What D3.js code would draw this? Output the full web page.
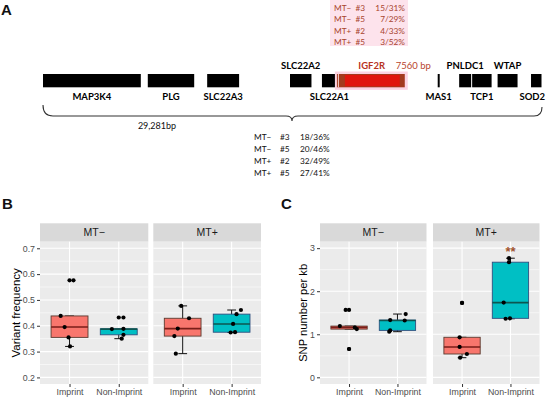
<!DOCTYPE html>
<html><head><meta charset="utf-8">
<script src="https://cdn.jsdelivr.net/npm/d3@7"></script>
<style>body{margin:0;background:#fff}svg{display:block}</style>
</head><body><svg id="c" width="550" height="399"></svg>
<script>
// ================= DATA =================
const facets = ["MT−", "MT+"];
const categories = ["Imprint", "Non-Imprint"];

// Panel B: variant frequency
const vfMinusImprint = [0.576, 0.438, 0.395, 0.355, 0.320];
const vfMinusNonImprint = [0.432, 0.387, 0.388, 0.365, 0.350];
const vfPlusImprint = [0.477, 0.429, 0.389, 0.360, 0.292];
const vfPlusNonImprint = [0.461, 0.445, 0.407, 0.375, 0.374];
const vfTicks = [0.2, 0.3, 0.4, 0.5, 0.6, 0.7];

// Panel C: SNP number per kb
const snpMinusImprint = [1.565, 1.19, 1.16, 1.12, 0.658];
const snpMinusNonImprint = [1.47, 1.33, 1.32, 1.09, 1.06];
const snpPlusImprint = [1.728, 0.93, 0.705, 0.542, 0.456];
const snpPlusNonImprint = [2.767, 2.674, 1.735, 1.37, 1.36];
const snpTicks = [0, 1, 2, 3];

// jitter offsets (category units)
const jitVfMinusImprint = [0.08, -0.18, -0.10, -0.02, 0.01];
const jitVfMinusNonImprint = [0.095, -0.14, 0.095, 0.095, 0.06];
const jitVfPlusImprint = [-0.03, 0.13, -0.10, -0.17, -0.14];
const jitVfPlusNonImprint = [0.19, 0.10, 0.03, 0.07, -0.02];
const jitSnpMinusImprint = [-0.07, -0.19, 0.12, 0.16, 0.0];
const jitSnpMinusNonImprint = [0.17, -0.15, 0.15, -0.15, -0.17];
const jitSnpPlusImprint = [0.0, -0.05, -0.05, 0.10, -0.04];
const jitSnpPlusNonImprint = [-0.03, -0.03, -0.14, -0.01, -0.10];

// Panel A: schematic gene map (positions in % of the 29,281 bp region)
const geneNames = ["MAP3K4", "PLG", "SLC22A3", "SLC22A2", "SLC22A1", "IGF2R", "MAS1", "PNLDC1", "TCP1", "WTAP", "SOD2"];
const geneStart = [0, 21.0, 32.9, 49.5, 55.9, 58.9, 79.1, 83.4, 86.0, 91.1, 97.8];
const geneEnd   = [19.6, 30.3, 39.3, 53.8, 58.9, 72.5, 79.5, 85.8, 89.9, 95.1, 99.9];
const geneLabelSide = ["below", "below", "below", "above", "below", "above", "below", "above", "below", "above", "below"];
const regionLength = "29,281bp";
const igf2rLength = "7560 bp";
const igf2rStatsMT = ["MT−", "MT−", "MT+", "MT+"];
const igf2rStatsId = ["#3", "#5", "#2", "#5"];
const igf2rStatsVal = ["15/31%", "7/29%", "4/33%", "3/52%"];
const regionStatsMT = ["MT−", "MT−", "MT+", "MT+"];
const regionStatsId = ["#3", "#5", "#2", "#5"];
const regionStatsVal = ["18/36%", "20/46%", "32/49%", "27/41%"];

// ================= DRAW =================
const svg = d3.select("#c");
const SANS = "'Liberation Sans', Arial, sans-serif";
const MAPF = "Lato, 'Open Sans', sans-serif";

// ---------- Panel A ----------
const gx = d3.scaleLinear().domain([0, 100]).range([43, 542]);
const geneTop = 74, geneBot = 87.3;
const A = svg.append("g");
A.append("text").attr("x", 1).attr("y", 15).text("A")
  .attr("font-family", SANS).attr("font-weight", "bold").attr("font-size", 15).attr("fill", "#111");

const genes = geneNames.map((n, i) => ({name: n, s: geneStart[i], e: geneEnd[i], side: geneLabelSide[i]}));
genes.forEach(g => {
  const x0 = gx(g.s), x1 = gx(g.e);
  if (g.name === "IGF2R") {
    A.append("rect").attr("x", x0 - 2).attr("y", geneTop - 2.5).attr("width", x1 - x0 + 5).attr("height", geneBot - geneTop + 5).attr("fill", "#fbd3e2");
    A.append("rect").attr("x", x0).attr("y", geneTop).attr("width", x1 - x0).attr("height", geneBot - geneTop).attr("fill", "#a33a1e");
    A.append("rect").attr("x", x0 + 1).attr("y", geneTop).attr("width", 1).attr("height", geneBot - geneTop).attr("fill", "#f5d0d0");
    A.append("rect").attr("x", x0 + 8).attr("y", geneTop + 1).attr("width", x1 - x0 - 13).attr("height", geneBot - geneTop - 2).attr("fill", "#e0150e");
  } else {
    A.append("rect").attr("x", x0).attr("y", geneTop).attr("width", Math.max(1.5, x1 - x0)).attr("height", geneBot - geneTop).attr("fill", "#000");
  }
  const isIgf = g.name === "IGF2R";
  let cx = (x0 + x1) / 2;
  if (g.name === "SOD2") cx -= 4;
  A.append("text")
    .attr("x", isIgf ? cx - 12.5 : cx)
    .attr("y", g.side === "above" ? 68.5 : 99.5)
    .attr("text-anchor", isIgf ? "start" : "middle")
    .attr("font-family", MAPF).attr("font-weight", "bold").attr("font-size", 9.5)
    .attr("fill", isIgf ? "#b8321e" : "#000").text(g.name);
  if (isIgf) {
    A.append("text").attr("x", cx + 25).attr("y", 68.5).attr("font-family", MAPF).attr("font-size", 9.5)
      .attr("fill", "#b8452e").text(igf2rLength);
  }
});

// stats above IGF2R
A.append("rect").attr("x", 330).attr("y", 0).attr("width", 78).attr("height", 46).attr("fill", "#fde3ec");
igf2rStatsMT.forEach((m, i) => {
  const y = 10.5 + i * 11.5;
  A.append("text").attr("x", 334).attr("y", y).text(m).attr("font-family", MAPF).attr("font-size", 8.3).attr("fill", "#a8432c");
  A.append("text").attr("x", 355.5).attr("y", y).text(igf2rStatsId[i]).attr("font-family", MAPF).attr("font-size", 8.3).attr("fill", "#a8432c");
  A.append("text").attr("x", 405).attr("y", y).attr("text-anchor", "end").text(igf2rStatsVal[i]).attr("font-family", MAPF).attr("font-size", 8.3).attr("fill", "#a8432c");
});

// brace
const bL = gx(0), bR = gx(100), bY = 116, bMid = 292;
const bp = d3.path();
bp.moveTo(bL, 105); bp.quadraticCurveTo(bL, bY, bL + 10, bY);
bp.lineTo(bMid - 6, bY); bp.quadraticCurveTo(bMid, bY, bMid, bY + 5);
bp.quadraticCurveTo(bMid, bY, bMid + 6, bY);
bp.lineTo(bR - 8, bY); bp.quadraticCurveTo(bR, bY, bR, 107);
A.append("path").attr("d", bp.toString()).attr("fill", "none").attr("stroke", "#333").attr("stroke-width", 1.1);
A.append("text").attr("x", 157).attr("y", 128.5).attr("text-anchor", "middle").attr("font-family", MAPF)
  .attr("font-size", 9).attr("fill", "#111").text(regionLength);

regionStatsMT.forEach((m, i) => {
  const y = 139.5 + i * 12;
  A.append("text").attr("x", 254).attr("y", y).text(m).attr("font-family", MAPF).attr("font-size", 8.3).attr("fill", "#111");
  A.append("text").attr("x", 280).attr("y", y).text(regionStatsId[i]).attr("font-family", MAPF).attr("font-size", 8.3).attr("fill", "#111");
  A.append("text").attr("x", 300).attr("y", y).text(regionStatsVal[i]).attr("font-family", MAPF).attr("font-size", 8.3).attr("fill", "#111");
});

// ---------- Panels B & C ----------
const FILLS = ["#F8766D", "#00BFC4"];
const MEDS = ["#7a1e18", "#0d5650"];
const OUTL = ["#5a3b30", "#2f4f7f"];

function boxStats(vals) {
  const s = vals.slice().sort(d3.ascending);
  const q1 = d3.quantile(s, 0.25), med = d3.quantile(s, 0.5), q3 = d3.quantile(s, 0.75);
  const iqr = q3 - q1;
  const inside = s.filter(v => v >= q1 - 1.5 * iqr && v <= q3 + 1.5 * iqr);
  return {q1, med, q3, lo: d3.min(inside), hi: d3.max(inside), out: s.filter(v => v < q1 - 1.5 * iqr || v > q3 + 1.5 * iqr)};
}

function facetChart(opt) {
  const g = svg.append("g");
  const y = d3.scaleLinear().domain(opt.domain).range([opt.bottom, opt.stripBot]);
  g.append("text").attr("x", opt.labelX).attr("y", 208.5).text(opt.label)
    .attr("font-family", SANS).attr("font-weight", "bold").attr("font-size", 15).attr("fill", "#111");
  opt.panels.forEach((p, pi) => {
    const x = d3.scaleLinear().domain([0.4, 2.6]).range([p.x0, p.x1]);
    const w = x(1.375) - x(1);
    // strip
    g.append("rect").attr("x", p.x0).attr("y", opt.stripTop).attr("width", p.x1 - p.x0).attr("height", opt.stripBot - opt.stripTop).attr("fill", "#D9D9D9");
    g.append("text").attr("x", (p.x0 + p.x1) / 2).attr("y", (opt.stripTop + opt.stripBot) / 2 + 3.8)
      .attr("text-anchor", "middle").attr("font-family", SANS).attr("font-size", 10.5).attr("fill", "#1A1A1A").text(facets[pi]);
    // panel bg
    g.append("rect").attr("x", p.x0).attr("y", opt.stripBot).attr("width", p.x1 - p.x0).attr("height", opt.bottom - opt.stripBot).attr("fill", "#EBEBEB");
    // minor grid
    opt.minor.forEach(v => {
      if (y(v) > opt.stripBot && y(v) < opt.bottom)
        g.append("line").attr("x1", p.x0).attr("x2", p.x1).attr("y1", y(v)).attr("y2", y(v)).attr("stroke", "#fff").attr("stroke-width", 0.55);
    });
    opt.ticks.forEach(v => {
      g.append("line").attr("x1", p.x0).attr("x2", p.x1).attr("y1", y(v)).attr("y2", y(v)).attr("stroke", "#fff").attr("stroke-width", 1.1);
    });
    [1, 2].forEach(c => g.append("line").attr("x1", x(c)).attr("x2", x(c)).attr("y1", opt.stripBot).attr("y2", opt.bottom).attr("stroke", "#fff").attr("stroke-width", 1.1));
    // x axis
    const xa = d3.axisBottom(d3.scalePoint().domain(categories).range([x(1), x(2)])).tickSize(3).tickPadding(2);
    const xg = g.append("g").attr("transform", `translate(0,${opt.bottom})`).call(xa);
    xg.select(".domain").remove();
    xg.selectAll("line").attr("stroke", "#333");
    xg.selectAll("text").attr("font-family", SANS).attr("font-size", 8.8).attr("fill", "#4D4D4D");
    // boxes
    p.groups.forEach((vals, ci) => {
      const st = boxStats(vals);
      const cx = x(ci + 1);
      const capW = x(1.09) - x(1);
      g.append("line").attr("x1", cx).attr("x2", cx).attr("y1", y(st.lo)).attr("y2", y(st.hi)).attr("stroke", "#111").attr("stroke-width", 1);
      [st.lo, st.hi].forEach(v => g.append("line").attr("x1", cx - capW).attr("x2", cx + capW).attr("y1", y(v)).attr("y2", y(v)).attr("stroke", "#111").attr("stroke-width", 1));
      g.append("rect").attr("x", cx - w).attr("y", y(st.q3)).attr("width", 2 * w).attr("height", Math.max(0.5, y(st.q1) - y(st.q3)))
        .attr("fill", FILLS[ci]).attr("stroke", OUTL[ci]).attr("stroke-width", 0.9);
      g.append("line").attr("x1", cx - w).attr("x2", cx + w).attr("y1", y(st.med)).attr("y2", y(st.med)).attr("stroke", MEDS[ci]).attr("stroke-width", 1.6);
      st.out.forEach(v => g.append("circle").attr("cx", cx).attr("cy", y(v)).attr("r", 2.1).attr("fill", "#000"));
      vals.forEach((v, k) => g.append("circle").attr("cx", x(ci + 1 + p.jit[ci][k])).attr("cy", y(v)).attr("r", 2.1).attr("fill", "#000"));
    });
    if (p.sig) {
      g.append("text").attr("x", x(2)).attr("y", y(p.sig.at)).attr("text-anchor", "middle")
        .attr("font-family", SANS).attr("font-weight", "bold").attr("font-size", 13).attr("fill", "#a0522d").text(p.sig.text);
    }
  });
  // y axis
  const ya = d3.axisLeft(y).tickValues(opt.ticks).tickFormat(opt.fmt).tickSize(3).tickPadding(2);
  const yg = g.append("g").attr("transform", `translate(${opt.panels[0].x0},0)`).call(ya);
  yg.select(".domain").remove();
  yg.selectAll("line").attr("stroke", "#333");
  yg.selectAll("text").attr("font-family", SANS).attr("font-size", 8.8).attr("fill", "#4D4D4D");
  const ym = (opt.stripBot + opt.bottom) / 2;
  g.append("text").attr("transform", `translate(${opt.titleX},${ym}) rotate(-90)`).attr("text-anchor", "middle")
    .attr("font-family", SANS).attr("font-size", opt.titleSize).attr("fill", "#000").text(opt.title);
}

facetChart({
  label: "B", labelX: 2, title: "Variant frequency", titleX: 20, titleSize: 11.5,
  domain: [0.1745, 0.7255], ticks: vfTicks, minor: [0.25, 0.35, 0.45, 0.55, 0.65], fmt: d3.format(".1f"),
  stripTop: 223.3, stripBot: 241.7, bottom: 384,
  panels: [
    {x0: 40, x1: 148.3, groups: [vfMinusImprint, vfMinusNonImprint], jit: [jitVfMinusImprint, jitVfMinusNonImprint]},
    {x0: 153.3, x1: 261, groups: [vfPlusImprint, vfPlusNonImprint], jit: [jitVfPlusImprint, jitVfPlusNonImprint]}
  ]
});
facetChart({
  label: "C", labelX: 281, title: "SNP number per kb", titleX: 306.5, titleSize: 11.2,
  domain: [-0.155, 3.15], ticks: snpTicks, minor: [0.5, 1.5, 2.5], fmt: d3.format("d"),
  stripTop: 223.3, stripBot: 241.7, bottom: 384,
  panels: [
    {x0: 320, x1: 426.5, groups: [snpMinusImprint, snpMinusNonImprint], jit: [jitSnpMinusImprint, jitSnpMinusNonImprint]},
    {x0: 433, x1: 539.5, groups: [snpPlusImprint, snpPlusNonImprint], jit: [jitSnpPlusImprint, jitSnpPlusNonImprint], sig: {text: "**", at: 2.82}}
  ]
});
</script></body></html>
